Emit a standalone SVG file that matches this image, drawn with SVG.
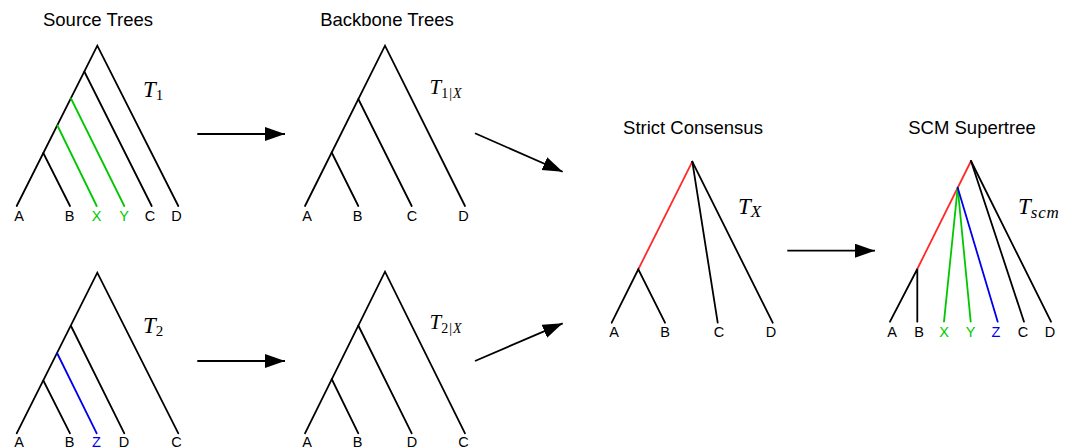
<svg xmlns="http://www.w3.org/2000/svg" width="1077" height="448" viewBox="0 0 1077 448">
<style>
.e{stroke:#000;stroke-width:1.8;fill:none;stroke-linecap:round}
.r{stroke:#ff2a2a}
.g{stroke:#00c800}
.b{stroke:#0000ee}
.lf{font-family:"Liberation Sans",Arial,sans-serif;font-size:14.5px;text-anchor:middle;fill:#000}
.tt{font-family:"Liberation Sans",Arial,sans-serif;font-size:18.5px;text-anchor:middle;fill:#000}
.ml{font-family:"Liberation Serif","Times New Roman",serif;font-style:italic;fill:#000}
.up{font-style:normal}
.gt{fill:#00c800}
.bt{fill:#0000ee}
.ar{stroke:#000;stroke-width:1.8;fill:none}
</style>
<defs>
<marker id="ah" markerUnits="userSpaceOnUse" markerWidth="21" markerHeight="15" refX="20" refY="7" orient="auto">
<path d="M0,0 L20,7 L0,14 z" fill="#000"/>
</marker>
</defs>

<g id="titles">
<text class="tt" x="98" y="26">Source Trees</text>
<text class="tt" x="387" y="26">Backbone Trees</text>
<text class="tt" x="693" y="134">Strict Consensus</text>
<text class="tt" x="972" y="134">SCM Supertree</text>
</g>

<g id="tree-T1">
<path class="e" d="M16.7,206 L97.3,45.7 L178.3,206"/>
<path class="e" d="M84.3,71.5 L151.7,206"/>
<path class="e g" d="M71,98.5 L124.3,206"/>
<path class="e g" d="M57.4,125.5 L96.7,206"/>
<path class="e" d="M43.3,153 L70,206"/>
<text class="lf" x="19" y="221">A</text>
<text class="lf" x="69.5" y="221">B</text>
<text class="lf gt" x="96.5" y="221">X</text>
<text class="lf gt" x="124" y="221">Y</text>
<text class="lf" x="150" y="221">C</text>
<text class="lf" x="176.5" y="221">D</text>
<text class="ml" x="143" y="96.5" font-size="23">T<tspan class="up" font-size="15" dy="3">1</tspan></text>
</g>

<g id="tree-T2">
<path class="e" d="M16.7,433.3 L97.3,272.7 L178.3,433.3"/>
<path class="e" d="M71,326 L124.3,433.3"/>
<path class="e b" d="M57.3,353.5 L96.7,433.3"/>
<path class="e" d="M43.3,380.5 L70,433.3"/>
<text class="lf" x="19" y="447">A</text>
<text class="lf" x="69.5" y="447">B</text>
<text class="lf bt" x="96.5" y="447">Z</text>
<text class="lf" x="124" y="447">D</text>
<text class="lf" x="176.5" y="447">C</text>
<text class="ml" x="143" y="332.5" font-size="23">T<tspan class="up" font-size="15" dy="3">2</tspan></text>
</g>

<g id="tree-T1X">
<path class="e" d="M305,206 L385,45.7 L465,206"/>
<path class="e" d="M358.3,99 L411.7,206"/>
<path class="e" d="M331.7,152.5 L358.3,206"/>
<text class="lf" x="307" y="221">A</text>
<text class="lf" x="357.5" y="221">B</text>
<text class="lf" x="412" y="221">C</text>
<text class="lf" x="463.5" y="221">D</text>
<text class="ml" x="429.5" y="93.5" font-size="21">T<tspan class="up" font-size="14" dy="4" letter-spacing="1">1|</tspan><tspan font-size="14">X</tspan></text>
</g>

<g id="tree-T2X">
<path class="e" d="M305,433.3 L385,271.7 L465,433.3"/>
<path class="e" d="M358.3,325.5 L411.7,433.3"/>
<path class="e" d="M331.7,379 L358.3,433.3"/>
<text class="lf" x="307" y="447">A</text>
<text class="lf" x="357.5" y="447">B</text>
<text class="lf" x="412" y="447">D</text>
<text class="lf" x="463.5" y="447">C</text>
<text class="ml" x="429.5" y="328.5" font-size="21">T<tspan class="up" font-size="14" dy="4" letter-spacing="1">2|</tspan><tspan font-size="14">X</tspan></text>
</g>

<g id="tree-TX">
<path class="e r" d="M692.3,161.7 L638.3,269.3"/>
<path class="e" d="M611.7,322.7 L638.3,269.3 L665,322.7"/>
<path class="e" d="M692.3,161.7 L717.7,322.7"/>
<path class="e" d="M692.3,161.7 L772.7,322.7"/>
<text class="lf" x="614" y="337">A</text>
<text class="lf" x="665" y="337">B</text>
<text class="lf" x="719" y="337">C</text>
<text class="lf" x="771" y="337">D</text>
<text class="ml" x="738" y="214" font-size="23">T<tspan font-size="17" dy="3">X</tspan></text>
</g>

<g id="tree-Tscm">
<path class="e r" d="M971,161 L917.3,269"/>
<path class="e" d="M971,161 L1024,321.7"/>
<path class="e" d="M971,161 L1051,321.7"/>
<path class="e g" d="M957.7,187.7 L944,321.7"/>
<path class="e g" d="M957.7,187.7 L970.7,321.7"/>
<path class="e b" d="M957.7,187.7 L997.7,321.7"/>
<path class="e" d="M890,321.7 L917.3,269 L917.3,321.7"/>
<text class="lf" x="892" y="337">A</text>
<text class="lf" x="919" y="337">B</text>
<text class="lf gt" x="944" y="337">X</text>
<text class="lf gt" x="970.5" y="337">Y</text>
<text class="lf bt" x="996" y="337">Z</text>
<text class="lf" x="1023" y="337">C</text>
<text class="lf" x="1050" y="337">D</text>
<text class="ml" x="1018" y="214" font-size="23">T<tspan font-size="17" dy="4" letter-spacing="0.8">scm</tspan></text>
</g>

<g id="connectors">
<line class="ar" x1="197.3" y1="134" x2="285" y2="134" marker-end="url(#ah)"/>
<line class="ar" x1="197.3" y1="361" x2="285" y2="361" marker-end="url(#ah)"/>
<line class="ar" x1="475" y1="133.3" x2="562.7" y2="171.7" marker-end="url(#ah)"/>
<line class="ar" x1="475" y1="361" x2="562.7" y2="323.3" marker-end="url(#ah)"/>
<line class="ar" x1="787.3" y1="250.7" x2="875" y2="250.7" marker-end="url(#ah)"/>
</g>
</svg>
